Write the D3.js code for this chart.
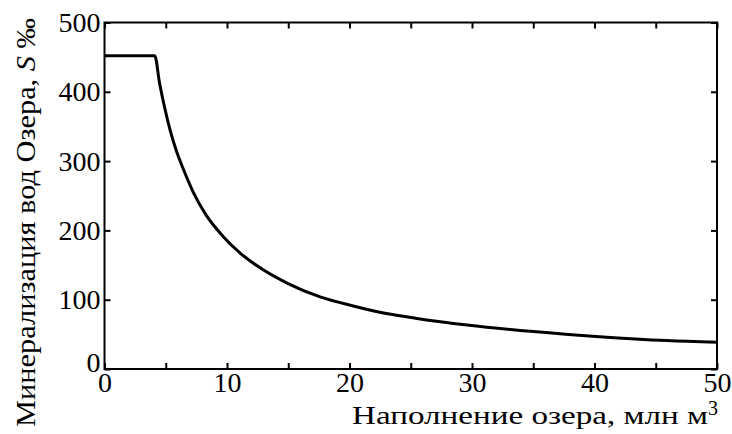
<!DOCTYPE html>
<html>
<head>
  <meta charset="utf-8">
  <script src="https://d3js.org/d3.v7.min.js"></script>
  <style>
    body { margin: 0; background: #fff; }
    text { font-family: "Liberation Serif", "Times New Roman", serif; fill: #000; }
  </style>
</head>
<body>
<svg width="732" height="434"></svg>
<script>
  // volume of lake (mln m3) vs salinity S
  var volume   = [0, 4.1, 4.5, 4.9, 5.35, 5.9, 6.4, 7.25, 8.3, 9.7, 11.1, 12.7, 14.9, 17.6, 20.3, 23.0, 25.5, 29.6, 35.0, 40.4, 45.9, 50];
  var salinity = [452, 452, 412, 378, 345, 313, 290, 255, 222, 191, 167, 146, 124, 104, 91, 80, 73, 63.5, 54, 46.6, 41, 38.5];
  var xTicks = [0, 5, 10, 15, 20, 25, 30, 35, 40, 45, 50];
  var yTicks = [0, 100, 200, 300, 400, 500];

  var svg = d3.select("svg");
  var mLeft = 104.5, mRight = 717, mTop = 22.5, mBottom = 369;

  var x = d3.scaleLinear().domain([0, 50]).range([mLeft, mRight]);
  var y = d3.scaleLinear().domain([0, 500]).range([mBottom, mTop]);

  var pts = volume.map(function(v, i) { return [v, salinity[i]]; });

  // the curve
  var line = d3.line()
      .x(function(d) { return x(d[0]); })
      .y(function(d) { return y(d[1]); })
      .curve(d3.curveMonotoneX);

  svg.append("path")
      .datum(pts)
      .attr("fill", "none")
      .attr("stroke", "#000")
      .attr("stroke-width", 3)
      .attr("stroke-linejoin", "round")
      .attr("d", line);

  // axes, ticks point inward
  svg.append("g")
      .attr("transform", "translate(0," + mBottom + ")")
      .call(d3.axisBottom(x).tickValues(xTicks).tickSize(-6).tickPadding(3)
        .tickFormat(function(d) { return d % 10 === 0 ? d : ""; }));
  svg.append("g")
      .attr("transform", "translate(0," + mTop + ")")
      .call(d3.axisTop(x).tickValues(xTicks).tickSize(-6).tickFormat(""));
  var yAxisG = svg.append("g")
      .attr("transform", "translate(" + mLeft + ",0)")
      .call(d3.axisLeft(y).tickValues(yTicks).tickSize(-6).tickPadding(4));
  svg.append("g")
      .attr("transform", "translate(" + mRight + ",0)")
      .call(d3.axisRight(y).tickValues(yTicks).tickSize(-6).tickFormat(""));

  svg.selectAll(".domain").remove();
  svg.selectAll(".tick line").attr("stroke", "#000").attr("stroke-width", 2);
  svg.selectAll(".tick text")
      .style("font-family", "'Liberation Serif', serif")
      .style("font-size", "28px")
      .attr("fill", "#000");

  // the y "0" sits a bit above its tick so it clears the x "0"
  yAxisG.selectAll(".tick text")
      .filter(function(d) { return d === 0; })
      .attr("y", -6);

  // frame
  svg.append("rect")
      .attr("x", mLeft).attr("y", mTop)
      .attr("width", mRight - mLeft).attr("height", mBottom - mTop)
      .attr("fill", "none")
      .attr("stroke", "#000")
      .attr("stroke-width", 2);

  // x title
  var xtitle = svg.append("text")
      .attr("x", 352).attr("y", 424)
      .style("font-size", "25px");
  xtitle.append("tspan").text("Наполнение озера, млн м")
      .attr("textLength", 356).attr("lengthAdjust", "spacingAndGlyphs");
  xtitle.append("tspan").text("3").attr("dy", -9).style("font-size", "20px");

  // y title
  var ytitle = svg.append("text")
      .attr("transform", "translate(35,427) rotate(-90)")
      .style("font-size", "28px")
      .attr("textLength", 409)
      .attr("lengthAdjust", "spacingAndGlyphs");
  ytitle.append("tspan").text("Минерализация вод Озера, ");
  ytitle.append("tspan").text("S").style("font-style", "italic");
  ytitle.append("tspan").text(" ‰");
</script>
</body>
</html>
